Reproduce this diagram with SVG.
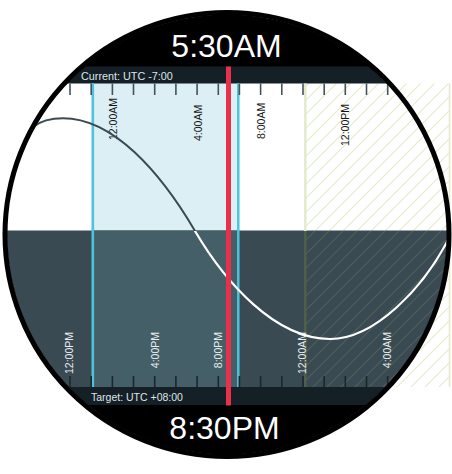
<svg xmlns="http://www.w3.org/2000/svg" width="452" height="474" viewBox="0 0 452 474">
<defs>
<style>
.lbl{font-family:"Liberation Sans",Arial,sans-serif;font-size:10.5px}
.dk{fill:#151515}
.lt{fill:#e9eef0}
.big{font-family:"Liberation Sans",Arial,sans-serif;font-size:32px;fill:#ffffff;text-anchor:middle}
.band{font-family:"Liberation Sans",Arial,sans-serif;fill:#dfe5e8}
.tickT{stroke:#44525a;stroke-width:1.6;fill:none}
.tickB{stroke:#1c262b;stroke-width:1.6;fill:none}
</style>
<clipPath id="circ"><circle cx="227" cy="234.5" r="220"/></clipPath>
<clipPath id="upper"><rect x="0" y="0" width="452" height="231"/></clipPath>
<clipPath id="lower"><rect x="0" y="231" width="452" height="243"/></clipPath>
<pattern id="hatchL" patternUnits="userSpaceOnUse" width="14" height="14"><path d="M0,14 L14,0 M-1,1 L1,-1 M13,15 L15,13" stroke="#e3ebcc" stroke-width="1.1" fill="none"/></pattern>
<pattern id="hatchD" patternUnits="userSpaceOnUse" width="14" height="14"><path d="M0,14 L14,0 M-1,1 L1,-1 M13,15 L15,13" stroke="#4f6058" stroke-width="1.1" fill="none"/></pattern>
</defs>

<g id="background">
  <g clip-path="url(#circ)">
    <rect x="0" y="0" width="452" height="474" fill="#ffffff"/>
    <rect x="92" y="83" width="146" height="148" fill="#dbeff5"/>
  </g>
  <rect id="hatch-light" x="305" y="83.5" width="145" height="303.5" fill="url(#hatchL)"/>
  <g clip-path="url(#circ)">
    <rect x="0" y="230.5" width="452" height="157" fill="#3a4a52"/>
    <rect x="92" y="230.5" width="146" height="157" fill="#455f68"/>
    <rect x="305" y="231" width="150" height="156" fill="url(#hatchD)"/>
    <rect x="0" y="0" width="452" height="67" fill="#000000"/>
    <rect x="0" y="66.5" width="452" height="17" fill="#152026"/>
    <rect x="0" y="387" width="452" height="18.5" fill="#152026"/>
    <rect x="0" y="405" width="452" height="70" fill="#000000"/>
  </g>
</g>

<g id="range-lines">
  <line x1="305.3" y1="83.5" x2="305.3" y2="231" stroke="#e2ebcb" stroke-width="2.5"/>
  <line x1="305.3" y1="231" x2="305.3" y2="387" stroke="#4e5f4c" stroke-width="2.5"/>
  <line x1="449.5" y1="83.5" x2="449.5" y2="387" stroke="#e2ebcb" stroke-width="1.5"/>
  <line x1="92.8" y1="83" x2="92.8" y2="387" stroke="#4cc4dc" stroke-width="2.6"/>
  <line x1="238.3" y1="83" x2="238.3" y2="387" stroke="#4cc4dc" stroke-width="2.5"/>
</g>

<g id="ticks" clip-path="url(#circ)">
  <path class="tickT" d="M70,83.5V95 M91.2,83.5V95 M112.4,83.5V95 M133.5,83.5V95 M154.7,83.5V95 M175.9,83.5V95 M197.1,83.5V95 M218.3,83.5V95 M239.4,83.5V95 M260.6,83.5V95 M281.8,83.5V95 M303,83.5V95 M324.2,83.5V95 M345.3,83.5V95 M366.5,83.5V95 M387.7,83.5V95"/>
  <path class="tickB" d="M70,376V387 M91.2,376V387 M112.4,376V387 M133.5,376V387 M154.7,376V387 M175.9,376V387 M197.1,376V387 M218.3,376V387 M239.4,376V387 M260.6,376V387 M281.8,376V387 M303,376V387 M324.2,376V387 M345.3,376V387 M366.5,376V387 M387.7,376V387"/>
</g>

<g id="current-labels" class="lbl dk">
  <text transform="translate(116.8,140) rotate(-90)">12:00AM</text>
  <text transform="translate(201.8,141) rotate(-90)">4:00AM</text>
  <text transform="translate(264.8,139) rotate(-90)">8:00AM</text>
  <text transform="translate(348.8,146) rotate(-90)">12:00PM</text>
</g>
<g id="target-labels" class="lbl lt" text-anchor="end">
  <text transform="translate(73.3,332) rotate(-90)">12:00PM</text>
  <text transform="translate(159.3,332) rotate(-90)">4:00PM</text>
  <text transform="translate(222.3,332) rotate(-90)">8:00PM</text>
  <text transform="translate(305.8,332) rotate(-90)">12:00AM</text>
  <text transform="translate(390.5,332) rotate(-90)">4:00AM</text>
</g>

<g id="daylight-curve" clip-path="url(#circ)" fill="none">
  <path clip-path="url(#upper)" d="M33,127 C42,120 52,118.3 63,118.3 C113,118.3 160,171.5 195,231 C225,282 275,339 330,339 C375,339 423,288 448,240 L458,221" stroke="#3b4b53" stroke-width="2"/>
  <path clip-path="url(#lower)" d="M33,127 C42,120 52,118.3 63,118.3 C113,118.3 160,171.5 195,231 C225,282 275,339 330,339 C375,339 423,288 448,240 L458,221" stroke="#ffffff" stroke-width="2.2"/>
</g>

<g id="now-line">
  <line x1="228.5" y1="66.5" x2="228.5" y2="405.5" stroke="#e8304a" stroke-width="5"/>
</g>

<g id="dial">
  <circle cx="227" cy="234.5" r="222" fill="none" stroke="#000000" stroke-width="5"/>
</g>

<g id="headers">
  <text class="band" x="81" y="80" font-size="10.8">Current: UTC -7:00</text>
  <text class="band" x="91" y="400.5" font-size="10.5">Target: UTC +08:00</text>
  <text class="big" x="226.5" y="56.5">5:30AM</text>
  <text class="big" x="224.5" y="439">8:30PM</text>
</g>
</svg>
